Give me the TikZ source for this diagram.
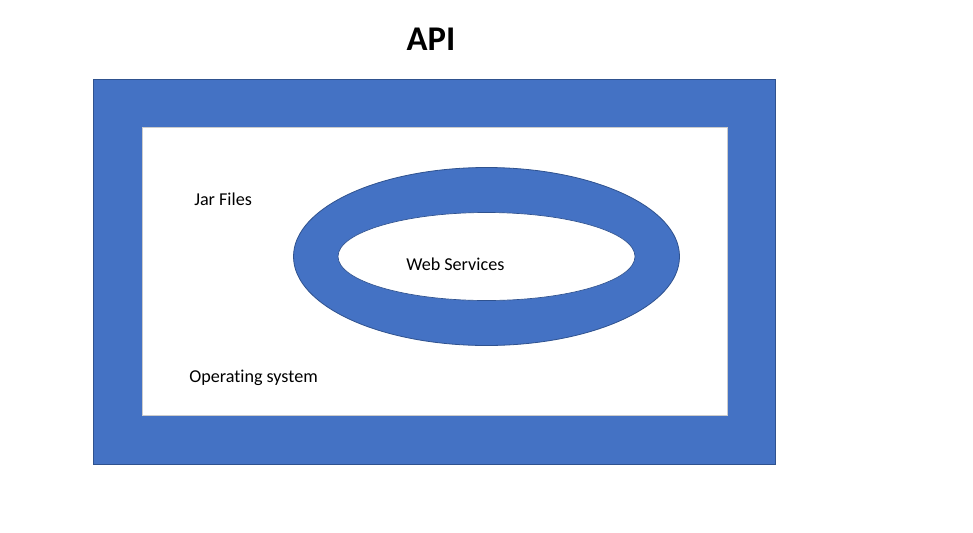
\documentclass[tikz,border=0pt]{standalone}
\usepackage{fontspec}
\setmainfont[Ligatures=NoCommon]{Carlito}
\usepackage{tikz}
\usetikzlibrary{positioning}
\definecolor{apiblue}{HTML}{4472C4}
\definecolor{apiedge}{HTML}{2F528F}
\tikzset{
bluepart/.style = {fill=apiblue, draw=apiedge, line width=0.6pt},
whitepart/.style = {fill=white, draw=#1, line width=0.5pt},
whitepart/.default = apiedge, % thin rim of the hole
label/.style = {anchor=base west, inner sep=0pt, font=\fontsize{13.6pt}{16pt}\selectfont}
}

\begin{document}
\begin{tikzpicture}[x=0.75pt, y=-0.75pt]
      \useasboundingbox (0,0) rectangle (973,532);
      % outer frame
      \draw [bluepart] (93.5,79.5) rectangle (775.5,464.5);
      \draw [whitepart=black!20] (142,127.5) rectangle (727,415);
      % ring
      \draw [bluepart] (486.5,256.5) ellipse [x radius=193, y radius=89];
      \draw [whitepart] (486.5,256.5) ellipse [x radius=148.5, y radius=44];
      % texts
      \node (title) [anchor=base, inner sep=0pt, font=\bfseries\fontsize{26pt}{30pt}\selectfont] at (431,50.5) {API};
      \node (jar) [label] at (194,205.5) {Jar Files};
      \node (web) [label] at (406,270) {Web Services};
      \node (os) [label] at (189,382) {Operating system};
    \end{tikzpicture}
\end{document}
